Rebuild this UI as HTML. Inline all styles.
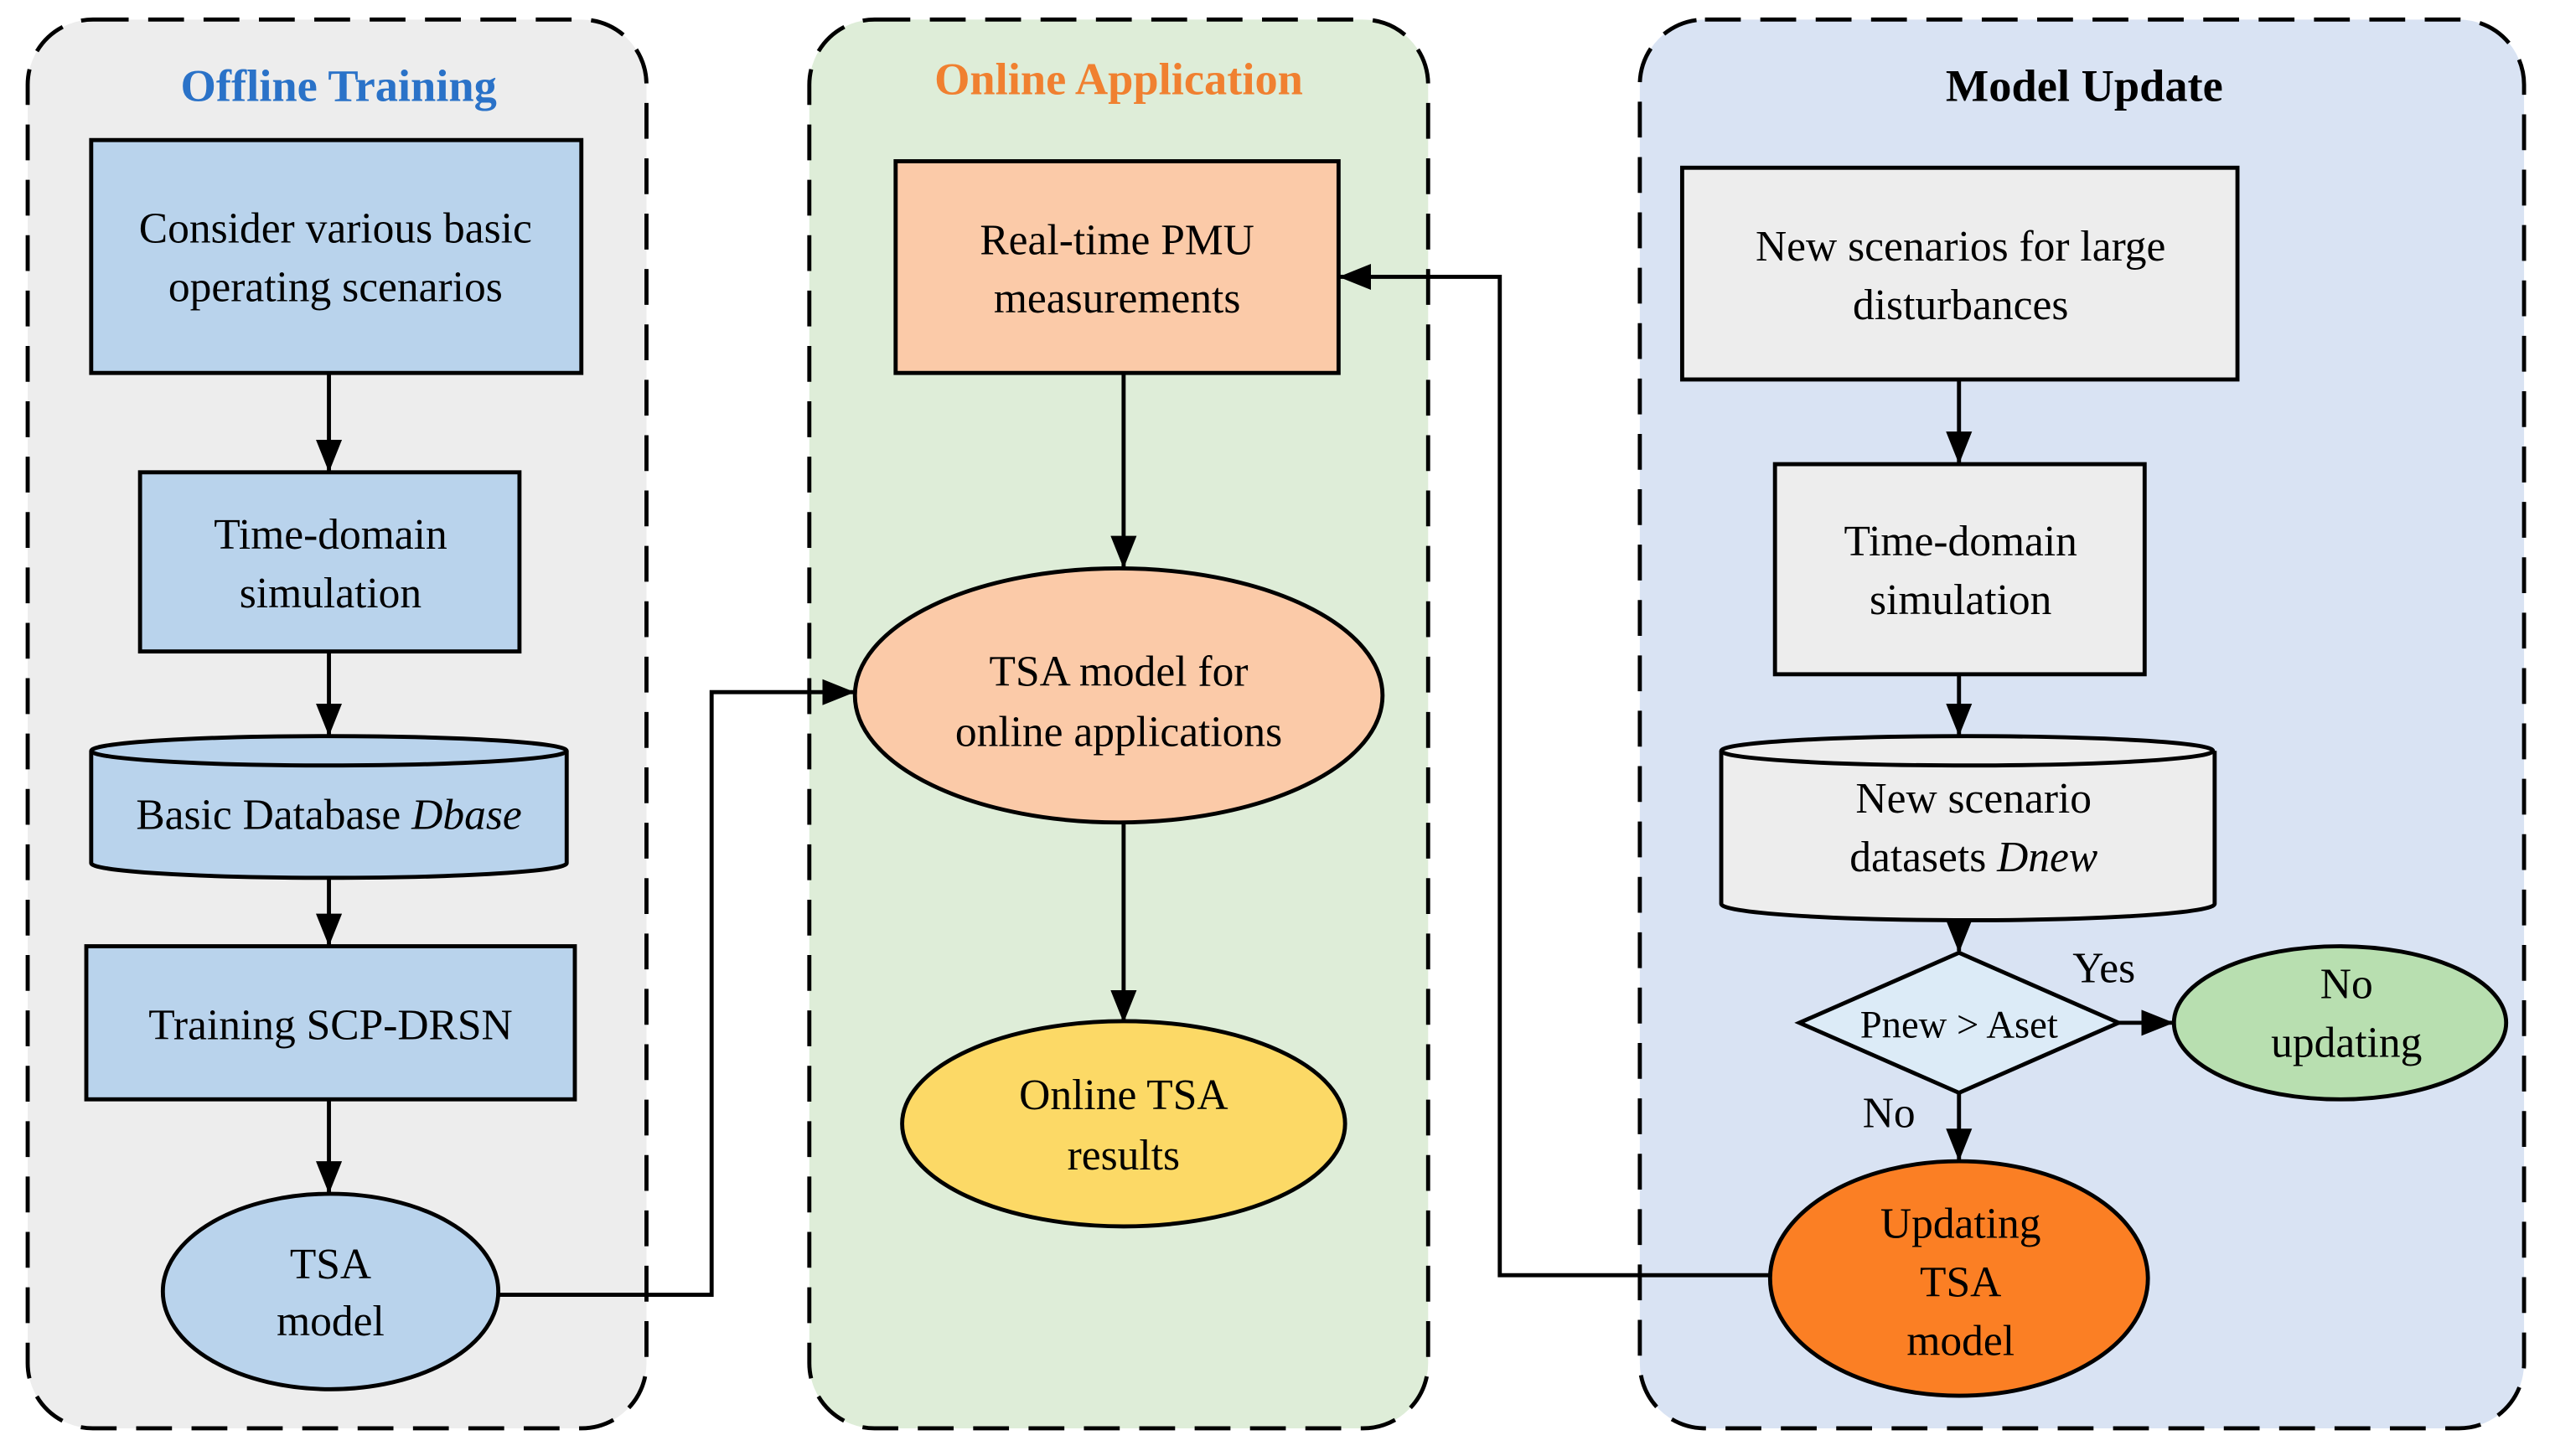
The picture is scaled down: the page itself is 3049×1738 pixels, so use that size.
<!DOCTYPE html>
<html><head><meta charset="utf-8"><style>
html,body{margin:0;padding:0;background:#fff;}
svg{display:block;}
text{font-family:"Liberation Serif",serif;font-size:26.5px;fill:#000;text-anchor:middle;}
</style></head><body>
<svg width="3049" height="1738" viewBox="0 0 1569 894" preserveAspectRatio="none" xmlns="http://www.w3.org/2000/svg">
<defs>
<marker id="b" markerWidth="20" markerHeight="16" refX="19" refY="8" orient="auto" markerUnits="userSpaceOnUse" viewBox="0 0 20 16">
<path d="M0,0 L20,8 L0,16 z" fill="#000"/></marker>
</defs>
<rect width="1569" height="894" fill="#fff"/>
<g stroke="#000" stroke-width="2.5" stroke-dasharray="22,12">
<rect x="17" y="12" width="380" height="865" rx="40" fill="#ededed"/>
<rect x="497" y="12" width="380" height="865" rx="40" fill="#deedd8"/>
<rect x="1007" y="12" width="543" height="865" rx="40" fill="#d9e3f3"/>
</g>
<text x="208" y="62" font-weight="bold" style="fill:#2a72c8;font-size:28px">Offline Training</text>
<text x="687" y="58" font-weight="bold" style="fill:#f08030;font-size:28px">Online Application</text>
<text x="1280" y="62" font-weight="bold" style="font-size:28px">Model Update</text>

<g stroke="#000" stroke-width="2.5">
<rect x="56" y="86" width="301" height="143" fill="#b9d3ec"/>
<rect x="86" y="290" width="233" height="110" fill="#b9d3ec"/>
<path d="M56,461 L56,530 A146,9 0 0 0 348,530 L348,461" fill="#b9d3ec"/>
<ellipse cx="202" cy="461" rx="146" ry="9" fill="#b9d3ec"/>
<rect x="53" y="581" width="300" height="94" fill="#b9d3ec"/>
<ellipse cx="203" cy="793" rx="103" ry="60" fill="#b9d3ec"/>

<rect x="550" y="99" width="272" height="130" fill="#fbcaa8"/>
<ellipse cx="687" cy="427" rx="162" ry="78" fill="#fbcaa8"/>
<ellipse cx="690" cy="690" rx="136" ry="63" fill="#fcd966"/>

<rect x="1033" y="103" width="341" height="130" fill="#ededed"/>
<rect x="1090" y="285" width="227" height="129" fill="#ededed"/>
<path d="M1057,461 L1057,555 A151,10 0 0 0 1360,555 L1360,461" fill="#ededed"/>
<ellipse cx="1208" cy="461" rx="151" ry="9" fill="#ededed"/>
<polygon points="1203,585 1301,628 1203,671 1105,628" fill="#dcebf7"/>
<ellipse cx="1437" cy="628" rx="102" ry="47" fill="#b8dfb0"/>
<ellipse cx="1203" cy="785" rx="116" ry="72" fill="#fb7f24"/>
</g>

<g stroke="#000" stroke-width="2.5" fill="none" marker-end="url(#b)">
<line x1="202" y1="229" x2="202" y2="289"/>
<line x1="202" y1="400" x2="202" y2="451"/>
<line x1="202" y1="540" x2="202" y2="580"/>
<line x1="202" y1="675" x2="202" y2="732"/>
<polyline points="305,795 437,795 437,425 524,425"/>
<line x1="690" y1="229" x2="690" y2="348"/>
<line x1="690" y1="505" x2="690" y2="627"/>
<line x1="1203" y1="233" x2="1203" y2="284"/>
<line x1="1203" y1="414" x2="1203" y2="451"/>
<line x1="1203" y1="565" x2="1203" y2="584"/>
<line x1="1301" y1="628" x2="1334" y2="628"/>
<line x1="1203" y1="671" x2="1203" y2="712"/>
<polyline points="1087,783 921,783 921,170 823,170"/>
</g>

<text x="206" y="149">Consider various basic</text>
<text x="206" y="185">operating scenarios</text>
<text x="203" y="337">Time-domain</text>
<text x="203" y="373">simulation</text>
<text x="202" y="509">Basic Database <tspan font-style="italic">Dbase</tspan></text>
<text x="203" y="638">Training SCP-DRSN</text>
<text x="203" y="785">TSA</text>
<text x="203" y="820">model</text>

<text x="686" y="156">Real-time PMU</text>
<text x="686" y="192">measurements</text>
<text x="687" y="421">TSA model for</text>
<text x="687" y="458">online applications</text>
<text x="690" y="681">Online TSA</text>
<text x="690" y="718">results</text>

<text x="1204" y="160">New scenarios for large</text>
<text x="1204" y="196">disturbances</text>
<text x="1204" y="341">Time-domain</text>
<text x="1204" y="377">simulation</text>
<text x="1212" y="499">New scenario</text>
<text x="1212" y="535">datasets <tspan font-style="italic">Dnew</tspan></text>
<text x="1203" y="637" style="font-size:24px">Pnew &gt; Aset</text>
<text x="1292" y="603">Yes</text>
<text x="1160" y="692">No</text>
<text x="1441" y="613">No</text>
<text x="1441" y="649">updating</text>
<text x="1204" y="760">Updating</text>
<text x="1204" y="796">TSA</text>
<text x="1204" y="832">model</text>
</svg>
</body></html>
